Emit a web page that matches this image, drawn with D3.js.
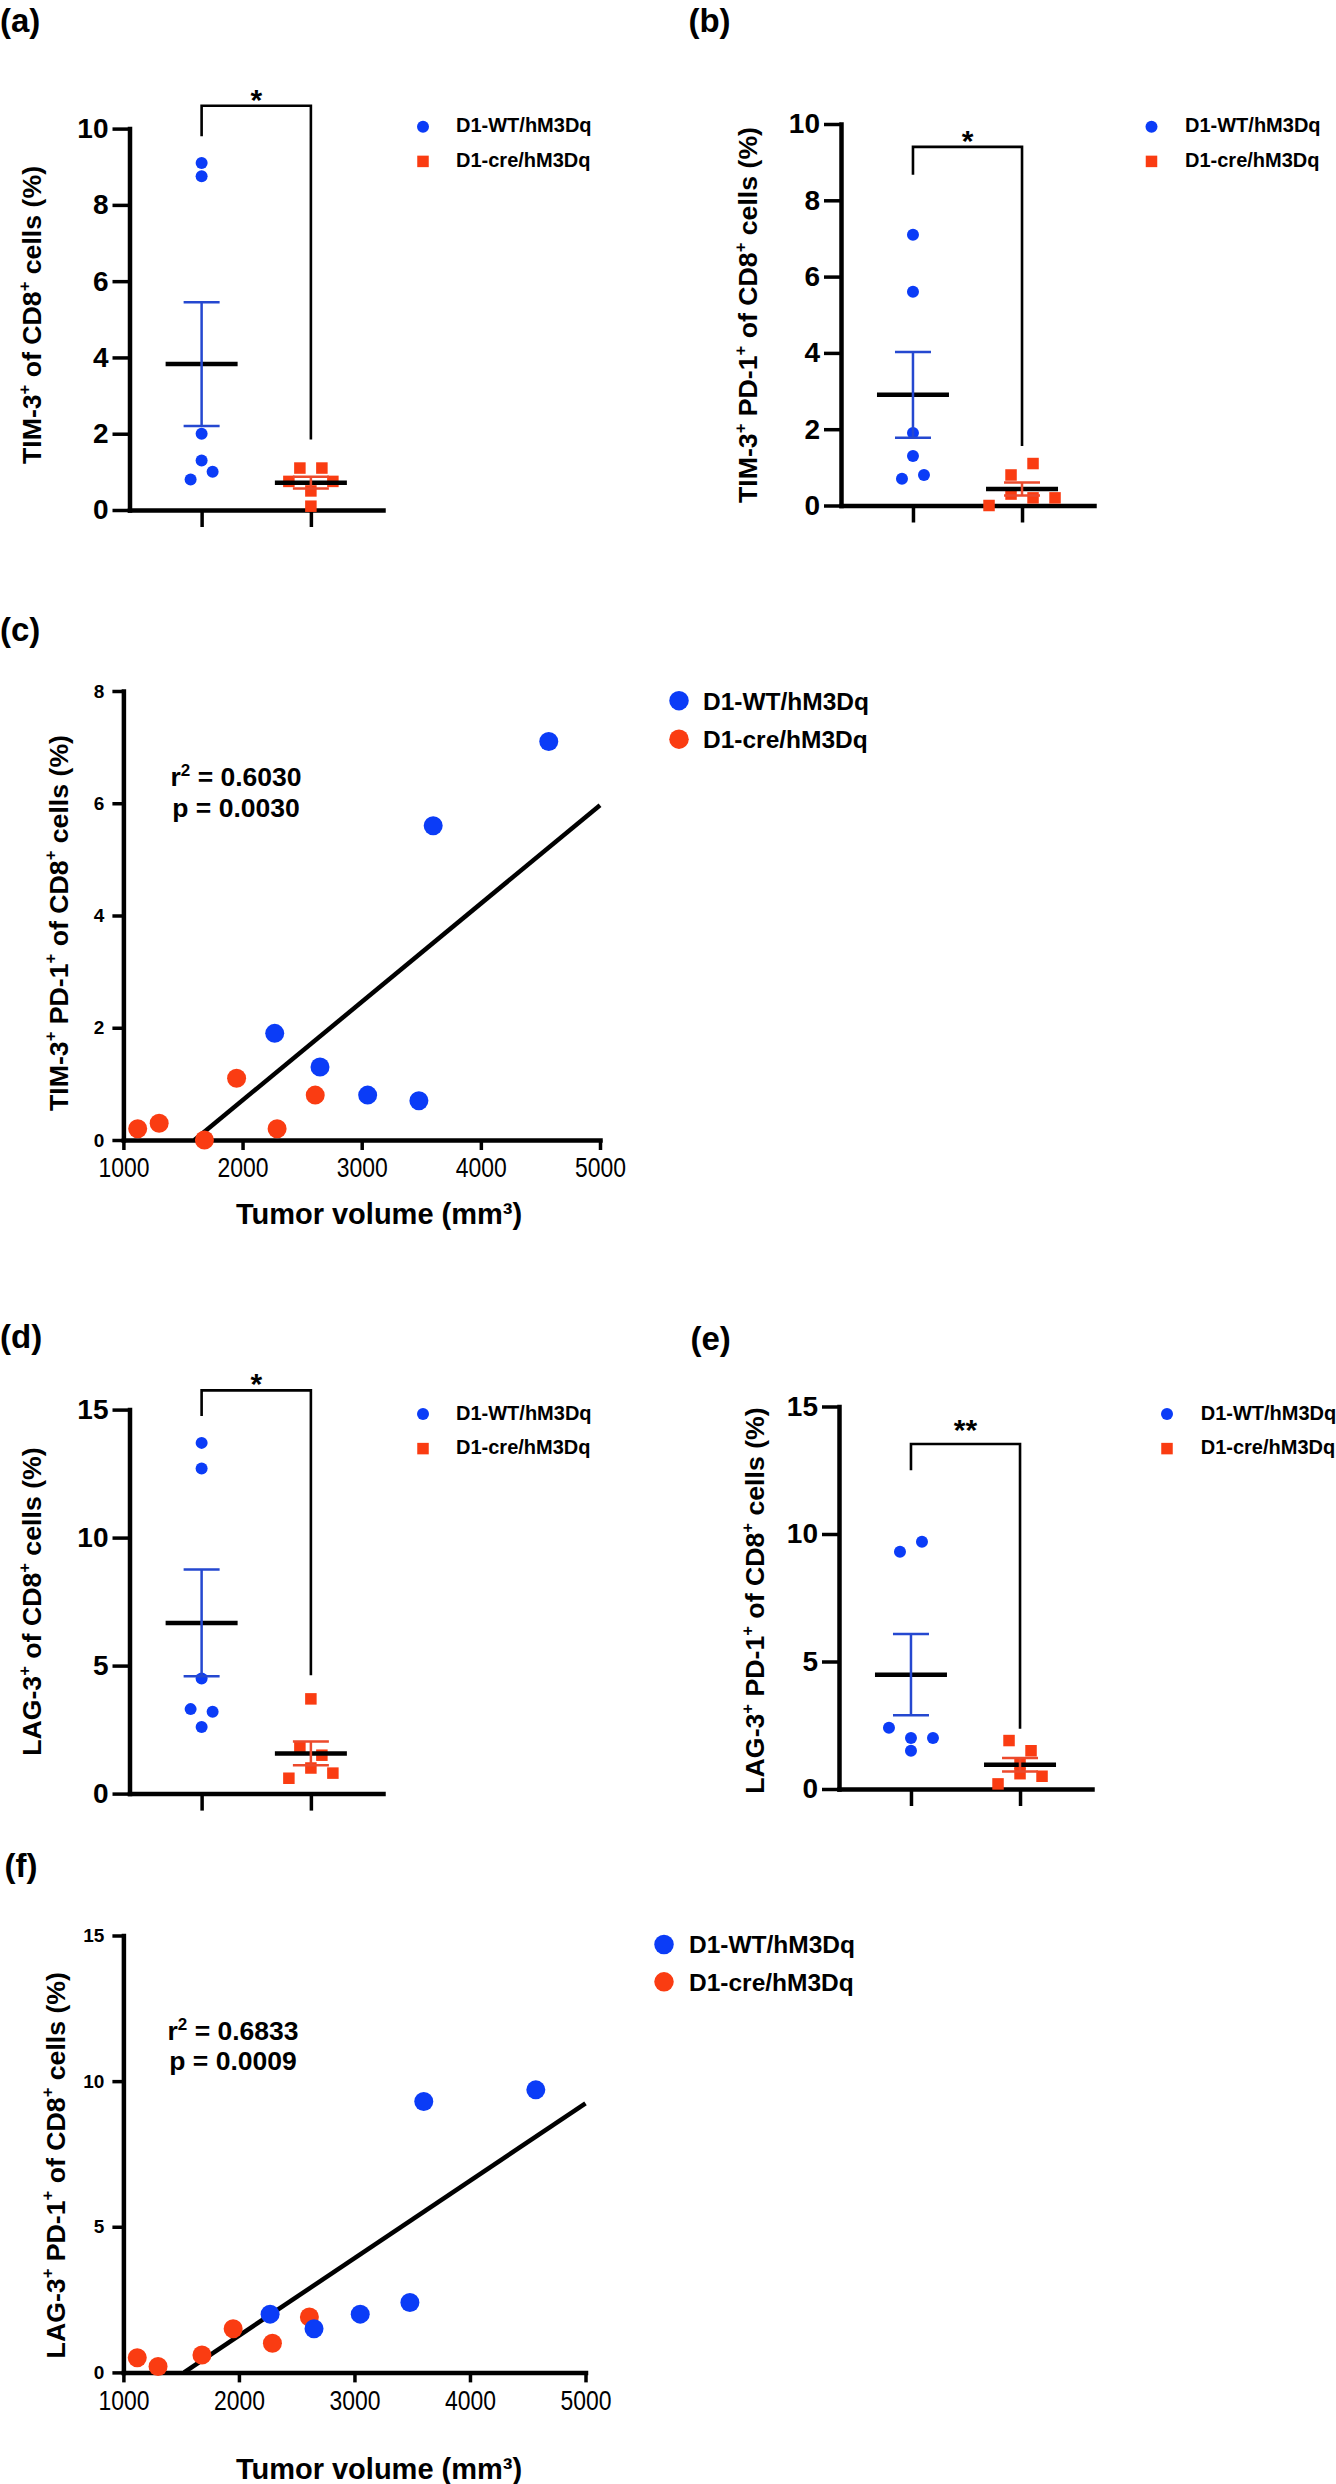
<!DOCTYPE html>
<html>
<head>
<meta charset="utf-8">
<script src="https://cdn.jsdelivr.net/npm/d3@7"></script>
<style>
body { margin: 0; background: #fff; }
</style>
</head>
<body>
<div id="fig"></div>
<script>
const FONT = '"Liberation Sans", Arial, Helvetica, sans-serif';
const BLUE = "#0b3cf7";
const RED = "#fa3c12";
const BLUE_BAR = "#2548d0";
const RED_BAR = "#ec4a2c";

const groups = ["D1-WT/hM3Dq", "D1-cre/hM3Dq"];

// (a) TIM-3+ of CD8+ cells (%)
const tim3WT = [9.1, 8.75, 2.0, 1.3, 0.8, 1.0];
const tim3Cre = [1.1, 1.1, 0.5, 0.75, 0.75, 0.1];

// (d) LAG-3+ of CD8+ cells (%)
const lag3WT = [13.7, 12.7, 4.5, 3.3, 3.2, 2.6];
const lag3Cre = [3.7, 1.8, 1.5, 1.0, 0.6, 0.8];

// tumor volume per mouse (mm3), same mice in (b)/(c) and (e)/(f)
const tumorWT = [2270, 2650, 3480, 3050, 3600, 4570];
const tumorCre = [1680, 1300, 1120, 2610, 1950, 2290];

// (b)/(c) TIM-3+ PD-1+ of CD8+ cells (%)
const tim3pd1WT = [1.9, 1.3, 0.7, 0.8, 5.6, 7.1];
const tim3pd1Cre = [0.0, 0.3, 0.2, 0.8, 1.1, 0.2];

// (e)/(f) LAG-3+ PD-1+ of CD8+ cells (%)
const lag3pd1WT = [2.0, 1.5, 2.4, 2.0, 9.3, 9.7];
const lag3pd1Cre = [0.6, 0.2, 0.5, 1.9, 1.5, 1.0];

// significance brackets: [top, left end, right end] in axis units
const bracketA = [10.6, 9.8, 1.85];
const bracketB = [9.4, 8.67, 1.56];
const bracketD = [15.75, 14.75, 4.62];
const bracketE = [13.53, 12.5, 2.36];

// regression statistics shown on (c) and (f)
const statsC = ["0.6030", "0.0030"];
const statsF = ["0.6833", "0.0009"];

const ticks10 = [0, 2, 4, 6, 8, 10];
const ticks15 = [0, 5, 10, 15];
const ticks8 = [0, 2, 4, 6, 8];
const volTicks = [1000, 2000, 3000, 4000, 5000];

const svg = d3.select("#fig").append("svg")
    .attr("width", 1336)
    .attr("height", 2484)
    .attr("font-family", FONT);

// spread points that share a row, like a column scatter
function laneOffsets(values, y, gap, lane) {
    const order = d3.range(values.length).sort((i, j) => values[i] - values[j] || i - j);
    const off = new Array(values.length).fill(0);
    let k = 0;
    while (k < order.length) {
        const row = [order[k]];
        let m = k + 1;
        while (m < order.length && y(values[order[k]]) - y(values[order[m]]) <= gap) {
            row.push(order[m]);
            m++;
        }
        row.sort((a, b) => a - b);
        const n = row.length;
        const slots = n === 3 ? [0, -1, 1] : d3.range(n).map(i => i - (n - 1) / 2);
        row.forEach((p, i) => { off[p] = slots[i] * lane; });
        k = m;
    }
    return off;
}

function yTitle(g, parts, cx, cy, fs) {
    const t = g.append("text")
        .attr("transform", "translate(" + (cx + 0.27 * fs) + "," + cy + ") rotate(-90)")
        .attr("text-anchor", "middle")
        .attr("font-size", fs)
        .attr("font-weight", "bold");
    let wasSup = false;
    parts.forEach(function (s, i) {
        const sup = i % 2 === 1;
        const ts = t.append("tspan").text(s);
        if (sup) {
            ts.attr("font-size", fs * 0.62).attr("dy", -0.42 * fs);
        } else if (wasSup) {
            ts.attr("dy", 0.42 * fs);
        }
        wasSup = sup;
    });
}

function panelLabel(txt, x, y) {
    svg.append("text")
        .attr("x", x).attr("y", y)
        .attr("font-size", 33)
        .attr("font-weight", "bold")
        .text(txt);
}

function dotPanel(p) {
    const g = svg.append("g");
    const y = d3.scaleLinear().domain([0, p.yMax]).range(p.yRange);
    const x = d3.scalePoint().domain(groups).range(p.xRange).padding(0.66);

    g.append("g")
        .attr("transform", "translate(" + p.xRange[0] + ",0)")
        .call(d3.axisLeft(y).tickValues(p.ticks).tickSize(17).tickSizeOuter(0).tickPadding(4))
        .attr("font-family", FONT)
        .attr("font-size", 28)
        .attr("font-weight", "bold")
        .call(ax => {
            ax.select(".domain").attr("stroke-width", 4.5).attr("stroke-linecap", "square");
            ax.selectAll(".tick line").attr("stroke-width", 3.5);
        });

    g.append("g")
        .attr("transform", "translate(0," + y(0) + ")")
        .call(d3.axisBottom(x).tickSize(17).tickSizeOuter(0).tickFormat(""))
        .call(ax => {
            ax.select(".domain").attr("stroke-width", 4.5).attr("stroke-linecap", "square");
            ax.selectAll(".tick line").attr("stroke-width", 3.5);
        });

    const offWT = laneOffsets(p.wt, y, 12, 22);
    const offCre = laneOffsets(p.cre, y, 12, 22);

    g.append("g")
        .selectAll("circle")
        .data(p.wt)
        .enter()
        .append("circle")
            .attr("cx", (d, i) => x(groups[0]) + offWT[i])
            .attr("cy", d => y(d))
            .attr("r", 6)
            .attr("fill", BLUE);

    g.append("g")
        .selectAll("rect")
        .data(p.cre)
        .enter()
        .append("rect")
            .attr("x", (d, i) => x(groups[1]) + offCre[i] - 5.75)
            .attr("y", d => y(d) - 5.75)
            .attr("width", 11.5)
            .attr("height", 11.5)
            .attr("fill", RED);

    // mean and SEM
    [[p.wt, groups[0], BLUE_BAR], [p.cre, groups[1], RED_BAR]].forEach(function (s) {
        const m = d3.mean(s[0]);
        const sem = d3.deviation(s[0]) / Math.sqrt(s[0].length);
        const cx = x(s[1]);
        g.append("line")
            .attr("x1", cx - 36).attr("x2", cx + 36)
            .attr("y1", y(m)).attr("y2", y(m))
            .attr("stroke", "#000").attr("stroke-width", 4.5);
        g.append("path")
            .attr("d", "M" + (cx - 18) + "," + y(m + sem) + "H" + (cx + 18) +
                "M" + cx + "," + y(m + sem) + "V" + y(m - sem) +
                "M" + (cx - 18) + "," + y(m - sem) + "H" + (cx + 18))
            .attr("fill", "none")
            .attr("stroke", s[2]).attr("stroke-width", 2.5);
    });

    // bracket
    const b = p.bracket;
    g.append("path")
        .attr("d", "M" + x(groups[0]) + "," + y(b[1]) + "V" + y(b[0]) + "H" + x(groups[1]) + "V" + y(b[2]))
        .attr("fill", "none")
        .attr("stroke", "#000")
        .attr("stroke-width", 2.6);
    g.append("text")
        .attr("x", (x(groups[0]) + x(groups[1])) / 2)
        .attr("y", y(b[0]) + (p.stars.length > 1 ? -4 : 4))
        .attr("text-anchor", "middle")
        .attr("font-size", 30)
        .attr("font-weight", "bold")
        .text(p.stars);

    yTitle(g, p.yLabel, p.yLabelPos[0], p.yLabelPos[1], 26.7);

    // legend
    const lg = g.append("g").attr("font-size", 20).attr("font-weight", "bold");
    lg.append("circle").attr("cx", p.legend[0]).attr("cy", p.legend[1]).attr("r", 6).attr("fill", BLUE);
    lg.append("rect").attr("x", p.legend[0] - 5.75).attr("y", p.legend[1] + 34.6 - 5.75)
        .attr("width", 11.5).attr("height", 11.5).attr("fill", RED);
    lg.selectAll("text")
        .data(groups)
        .enter()
        .append("text")
            .attr("x", p.legend[2])
            .attr("y", (d, i) => p.legend[1] + 5.5 + i * 34.6)
            .text(d => d);
}

function scatterPanel(p) {
    const g = svg.append("g");
    const x = d3.scaleLinear().domain([1000, 5000]).range(p.xRange);
    const y = d3.scaleLinear().domain([0, p.yMax]).range(p.yRange);

    g.append("g")
        .attr("transform", "translate(" + p.xRange[0] + ",0)")
        .call(d3.axisLeft(y).tickValues(p.ticks).tickSize(11).tickSizeOuter(0).tickPadding(8))
        .attr("font-family", FONT)
        .attr("font-size", 19)
        .attr("font-weight", "bold")
        .call(ax => {
            ax.select(".domain").attr("stroke-width", 4.5).attr("stroke-linecap", "square");
            ax.selectAll(".tick line").attr("stroke-width", 3.5);
        });

    g.append("g")
        .attr("transform", "translate(0," + y(0) + ")")
        .call(d3.axisBottom(x).tickValues(volTicks).tickSize(10).tickSizeOuter(0).tickPadding(8).tickFormat(d3.format("d")))
        .attr("font-family", FONT)
        .attr("font-size", 27)
        .call(ax => {
            ax.select(".domain").attr("stroke-width", 4.5).attr("stroke-linecap", "square");
            ax.selectAll(".tick line").attr("stroke-width", 3.5);
            ax.selectAll(".tick text").attr("textLength", 51).attr("lengthAdjust", "spacingAndGlyphs");
        });

    // least squares fit over all mice
    const xs = tumorWT.concat(tumorCre);
    const ys = p.wt.concat(p.cre);
    const mx = d3.mean(xs), my = d3.mean(ys);
    const sxy = d3.sum(xs, (v, i) => (v - mx) * (ys[i] - my));
    const sxx = d3.sum(xs, v => (v - mx) * (v - mx));
    const slope = sxy / sxx;
    const icpt = my - slope * mx;
    const x0 = Math.max(1000, -icpt / slope);
    g.append("line")
        .attr("x1", x(x0)).attr("y1", y(slope * x0 + icpt))
        .attr("x2", x(5000)).attr("y2", y(slope * 5000 + icpt))
        .attr("stroke", "#000")
        .attr("stroke-width", 4.5);

    g.append("g")
        .selectAll("circle")
        .data(p.cre)
        .enter()
        .append("circle")
            .attr("cx", (d, i) => x(tumorCre[i]))
            .attr("cy", d => y(d))
            .attr("r", 9.5)
            .attr("fill", RED);
    g.append("g")
        .selectAll("circle")
        .data(p.wt)
        .enter()
        .append("circle")
            .attr("cx", (d, i) => x(tumorWT[i]))
            .attr("cy", d => y(d))
            .attr("r", 9.5)
            .attr("fill", BLUE);

    // r2 / p text
    const st = g.append("g").attr("font-size", 26.5).attr("font-weight", "bold").attr("text-anchor", "middle");
    const t1 = st.append("text").attr("x", p.stat[0]).attr("y", p.stat[1]);
    t1.append("tspan").text("r");
    t1.append("tspan").attr("font-size", 17).attr("dy", -10).text("2");
    t1.append("tspan").attr("dy", 10).text(" = " + p.stats[0]);
    st.append("text").attr("x", p.stat[0]).attr("y", p.stat[2]).text("p = " + p.stats[1]);

    yTitle(g, p.yLabel, p.yLabelPos[0], p.yLabelPos[1], 26.7);

    g.append("text")
        .attr("x", p.xLabelPos[0]).attr("y", p.xLabelPos[1])
        .attr("text-anchor", "middle")
        .attr("font-size", 29)
        .attr("font-weight", "bold")
        .text("Tumor volume (mm³)");

    const lg = g.append("g").attr("font-size", 24.5).attr("font-weight", "bold");
    lg.selectAll("circle")
        .data(groups)
        .enter()
        .append("circle")
            .attr("cx", p.legend[0])
            .attr("cy", (d, i) => p.legend[1] + i * p.legend[3])
            .attr("r", 9.75)
            .attr("fill", (d, i) => i === 0 ? BLUE : RED);
    lg.selectAll("text")
        .data(groups)
        .enter()
        .append("text")
            .attr("x", p.legend[2])
            .attr("y", (d, i) => p.legend[1] + 8.8 + i * p.legend[3])
            .text(d => d);
}

const labelTim3 = ["TIM-3", "+", " of CD8", "+", " cells (%)"];
const labelTim3pd1 = ["TIM-3", "+", " PD-1", "+", " of CD8", "+", " cells (%)"];
const labelLag3 = ["LAG-3", "+", " of CD8", "+", " cells (%)"];
const labelLag3pd1 = ["LAG-3", "+", " PD-1", "+", " of CD8", "+", " cells (%)"];

panelLabel("(a)", 0, 32);
dotPanel({
    yMax: 10, ticks: ticks10, yRange: [510, 128.6], xRange: [129.5, 383],
    wt: tim3WT, cre: tim3Cre, bracket: bracketA, stars: "*",
    yLabel: labelTim3, yLabelPos: [33.5, 315], legend: [423, 126.8, 456]
});

panelLabel("(b)", 688.4, 32);
dotPanel({
    yMax: 10, ticks: ticks10, yRange: [505.5, 124], xRange: [841, 1094],
    wt: tim3pd1WT, cre: tim3pd1Cre, bracket: bracketB, stars: "*",
    yLabel: labelTim3pd1, yLabelPos: [749.5, 315], legend: [1151.5, 126.8, 1185]
});

panelLabel("(c)", 0, 641);
scatterPanel({
    yMax: 8, ticks: ticks8, yRange: [1140, 691], xRange: [123.4, 600],
    wt: tim3pd1WT, cre: tim3pd1Cre, stats: statsC, stat: [236, 785.7, 817],
    yLabel: labelTim3pd1, yLabelPos: [60.3, 923], xLabelPos: [379, 1224],
    legend: [679, 700.7, 703, 38.5]
});

panelLabel("(d)", 0, 1348);
dotPanel({
    yMax: 15, ticks: ticks15, yRange: [1793.6, 1409.6], xRange: [129.5, 383],
    wt: lag3WT, cre: lag3Cre, bracket: bracketD, stars: "*",
    yLabel: labelLag3, yLabelPos: [33.5, 1601.6], legend: [423, 1414, 456]
});

panelLabel("(e)", 690.5, 1350);
dotPanel({
    yMax: 15, ticks: ticks15, yRange: [1789, 1406.5], xRange: [839, 1092],
    wt: lag3pd1WT, cre: lag3pd1Cre, bracket: bracketE, stars: "**",
    yLabel: labelLag3pd1, yLabelPos: [756.5, 1600.5], legend: [1167, 1414, 1200.7]
});

panelLabel("(f)", 4.6, 1877);
scatterPanel({
    yMax: 15, ticks: ticks15, yRange: [2372.4, 1935.5], xRange: [123.4, 585.5],
    wt: lag3pd1WT, cre: lag3pd1Cre, stats: statsF, stat: [233, 2040, 2069.5],
    yLabel: labelLag3pd1, yLabelPos: [57.4, 2165.2], xLabelPos: [379, 2479],
    legend: [664, 1944.5, 689, 37.3]
});
</script>
</body>
</html>
